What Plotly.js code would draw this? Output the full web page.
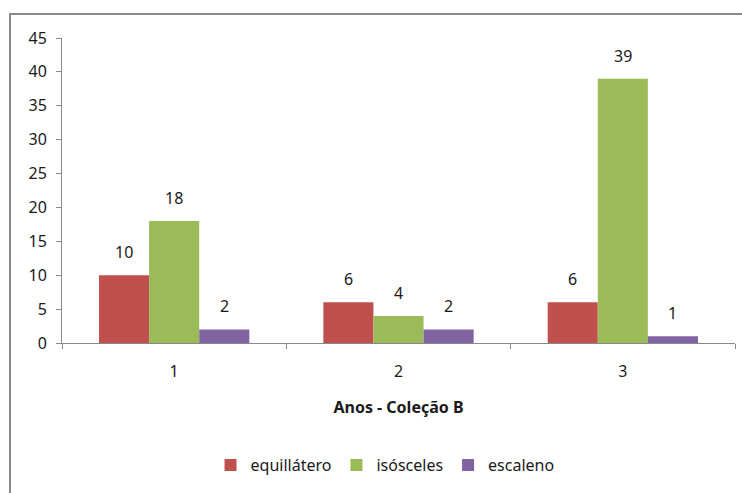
<!DOCTYPE html>
<html><head><meta charset="utf-8">
<script src="https://cdn.plot.ly/plotly-3.0.1.min.js"></script>
<style>html,body{margin:0;padding:0;background:#fff;}#frame{position:absolute;left:9px;top:13px;width:740px;height:490px;border:2px solid #888;box-sizing:border-box;pointer-events:none;}</style>
</head><body>
<div id="chart" style="width:742px;height:493px;"></div>
<div id="frame"></div>
<script>
const categories = ["1", "2", "3"];
const equilatero = [10, 6, 6];
const isosceles = [18, 4, 39];
const escaleno = [2, 2, 1];
const seriesNames = ["equillátero", "isósceles", "escaleno"];
const colors = ["#C0504D", "#9BBB59", "#8064A2"];
const yTicks = [0, 5, 10, 15, 20, 25, 30, 35, 40, 45];

const font = "Noto Sans, sans-serif";
const series = [equilatero, isosceles, escaleno];
const data = series.map((v, i) => ({
  type: "bar", x: categories, y: v, name: seriesNames[i],
  marker: {color: colors[i]}
}));
const annotations = [];
series.forEach((v, i) => {
  v.forEach((val, j) => {
    annotations.push({
      x: j, y: val, xref: "x", yref: "y",
      text: String(val), showarrow: false, yanchor: "bottom",
      xshift: (i - 1) * 50, yshift: 10,
      font: {family: font, size: 16, color: "#1a1a1a"}
    });
  });
});
const layout = {
  width: 742, height: 493,
  margin: {l: 62, r: 7, t: 38, b: 150},
  paper_bgcolor: "#fff", plot_bgcolor: "#fff",
  barmode: "group", bargap: 0.33, bargroupgap: 0,
  font: {family: font, size: 15, color: "#1a1a1a"},
  xaxis: {
    type: "category", showline: true, linecolor: "#888", linewidth: 1,
    ticks: "outside", tickson: "boundaries", ticklen: 5, tickcolor: "#888",
    showgrid: false, zeroline: false, ticklabelstandoff: 14,
    tickfont: {size: 16},
    title: {text: "<b>Anos - Coleção B</b>", font: {size: 16}, standoff: 20}
  },
  yaxis: {
    range: [0, 45], tickvals: yTicks, showline: true, linecolor: "#888",
    ticks: "outside", ticklen: 5, tickcolor: "#888", showgrid: false,
    zeroline: false, tickfont: {size: 16}, ticklabelstandoff: 6
  },
  annotations: annotations,
  showlegend: true,
  legend: {orientation: "h", x: 0.48, xanchor: "center", y: -0.4, yanchor: "middle",
    font: {size: 16}, itemwidth: 30, traceorder: "normal"}
};
Plotly.newPlot("chart", data, layout, {displayModeBar: false, staticPlot: true});
</script>
</body></html>
